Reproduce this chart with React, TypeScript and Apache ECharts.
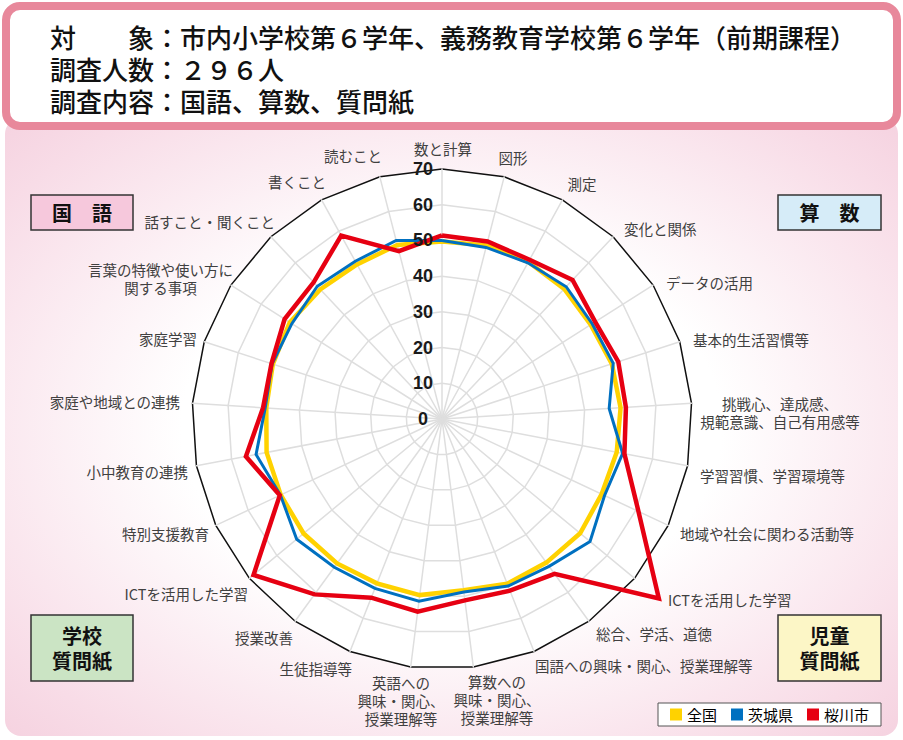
import React, { useEffect, useRef } from 'react';
import * as echarts from 'echarts';

// ---------- data ----------
const categories = [
  '数と計算',
  '図形',
  '測定',
  '変化と関係',
  'データの活用',
  '基本的生活習慣等',
  '挑戦心、達成感、\n規範意識、自己有用感等',
  '学習習慣、学習環境等',
  '地域や社会に関わる活動等',
  'ICTを活用した学習',
  '総合、学活、道徳',
  '国語への興味・関心、授業理解等',
  '算数への\n興味・関心、\n授業理解等',
  '英語への\n興味・関心、\n授業理解等',
  '生徒指導等',
  '授業改善',
  'ICTを活用した学習',
  '特別支援教育',
  '小中教育の連携',
  '家庭や地域との連携',
  '家庭学習',
  '言葉の特徴や使い方に\n関する事項',
  '話すこと・聞くこと',
  '書くこと',
  '読むこと',
];

const seriesNames = ['全国', '茨城県', '桜川市'];

const zenkoku = [49.7, 50.2, 50.2, 50.0, 49.3, 50.0, 50.1, 49.8, 49.4, 50.2, 49.7, 49.6, 48.3, 49.7, 49.5, 50.0, 50.3, 49.9, 50.0, 49.3, 49.8, 50.5, 49.8, 49.4, 50.3];
const ibaraki = [50.0, 49.6, 49.9, 50.8, 49.8, 50.4, 46.9, 51.5, 50.3, 53.8, 51.0, 50.3, 48.8, 51.4, 51.0, 51.3, 52.8, 50.0, 53.0, 49.6, 50.0, 49.8, 51.0, 50.4, 51.6];
const sakuragawa = [51.4, 51.3, 50.9, 53.4, 50.8, 51.9, 51.6, 52.0, 60.8, 78.8, 53.6, 51.7, 51.2, 54.4, 53.8, 60.7, 68.5, 50.2, 55.9, 50.2, 50.2, 52.2, 52.5, 58.6, 48.5];

const axisMin = 0;
const axisMax = 70;
const axisSplit = 7;

const headerLines = [
  '対　　象：市内小学校第６学年、義務教育学校第６学年（前期課程）',
  '調査人数：２９６人',
  '調査内容：国語、算数、質問紙',
];
const groupLabels = ['国　語', '算　数', '学校\n質問紙', '児童\n質問紙'];

// ---------- layout / style ----------
const FONT = '"Noto Sans CJK JP", "Noto Sans", sans-serif';
const COLORS = ['#FFD200', '#0070C0', '#E60012'];
const WIDTHS = [4.5, 3, 4.5];

const labelLayout: { x: number; y: number; align: string }[] = [
  { x: 443, y: 148, align: 'center' },
  { x: 513, y: 157, align: 'center' },
  { x: 582, y: 183, align: 'center' },
  { x: 624, y: 228, align: 'left' },
  { x: 666, y: 282, align: 'left' },
  { x: 693, y: 339, align: 'left' },
  { x: 780, y: 412, align: 'center' },
  { x: 700, y: 475, align: 'left' },
  { x: 680, y: 533, align: 'left' },
  { x: 668, y: 599, align: 'left' },
  { x: 596, y: 633, align: 'left' },
  { x: 535, y: 665, align: 'left' },
  { x: 497, y: 699, align: 'center' },
  { x: 401, y: 700, align: 'center' },
  { x: 352, y: 668, align: 'right' },
  { x: 293, y: 637, align: 'right' },
  { x: 248, y: 593, align: 'right' },
  { x: 209, y: 533, align: 'right' },
  { x: 188, y: 471, align: 'right' },
  { x: 180, y: 401, align: 'right' },
  { x: 197, y: 338, align: 'right' },
  { x: 160.5, y: 278.5, align: 'center' },
  { x: 275, y: 221, align: 'right' },
  { x: 326, y: 181, align: 'right' },
  { x: 382, y: 155, align: 'right' },
];

const boxLayout = [
  { x: 31, y: 195, w: 102, h: 35, fill: '#f6c8dc' },
  { x: 778, y: 195, w: 103, h: 35, fill: '#d6ecf8' },
  { x: 31, y: 615, w: 102, h: 66, fill: '#cbe4c4' },
  { x: 778, y: 615, w: 103, h: 66, fill: '#fcf6c6' },
];

const RADAR_CENTER = [442, 419];
const RADAR_RADIUS = 250;

export default function App() {
  const ref = useRef<HTMLDivElement>(null);

  useEffect(() => {
    if (!ref.current) return;
    const chart = echarts.init(ref.current, null, { renderer: 'svg' });

    const n = categories.length;
    // ECharts lays radar indicators counter-clockwise; reorder so the picture reads clockwise.
    const order = [0, ...Array.from({ length: n - 1 }, (_, k) => n - 1 - k)];
    const reorder = (arr: number[]) => order.map((i) => arr[i]);

    const ringColors = Array.from({ length: axisSplit + 1 }, (_, i) => (i === axisSplit ? '#111111' : '#dedede'));

    const baseIndicators = order.map((i) => ({ name: categories[i], min: axisMin, max: axisMax }));
    const labelIndicators = order.map((i, k) => {
      const ind: any = { name: categories[i], min: axisMin, max: axisMax };
      if (k === 0) {
        ind.axisLabel = {
          show: true,
          align: 'center',
          margin: 19,
          fontSize: 18,
          fontWeight: 'bold',
          color: '#1a1a1a',
          fontFamily: '"Liberation Sans", Arial, sans-serif',
        };
      }
      return ind;
    });

    const allSeries = [zenkoku, ibaraki, sakuragawa];

    const graphics: any[] = [
      {
        type: 'rect',
        z: -20,
        silent: true,
        shape: { x: 5, y: 118, width: 893, height: 618, r: 16 },
        style: {
          fill: {
            type: 'radial',
            x: 0.5,
            y: 0.5,
            r: 0.72,
            colorStops: [
              { offset: 0, color: '#ffffff' },
              { offset: 0.42, color: '#ffffff' },
              { offset: 0.85, color: '#f8dce7' },
              { offset: 1, color: '#f5d1df' },
            ],
          },
        },
      },
      {
        type: 'rect',
        z: -19,
        silent: true,
        shape: { x: 6, y: 6, width: 891, height: 120, r: 14 },
        style: { fill: '#ffffff', stroke: '#e8889b', lineWidth: 8 },
      },
      ...headerLines.map((t, i) => ({
        type: 'text',
        z: 100,
        x: 50,
        y: 36 + i * 32,
        style: {
          text: t,
          fill: '#111111',
          fontSize: 26,
          fontWeight: 500,
          fontFamily: FONT,
          align: 'left',
          verticalAlign: 'middle',
        },
      })),
      ...boxLayout.map((b) => ({
        type: 'rect',
        z: 100,
        shape: { x: b.x, y: b.y, width: b.w, height: b.h },
        style: { fill: b.fill, stroke: '#333333', lineWidth: 1.5 },
      })),
      ...groupLabels.map((t, i) => ({
        type: 'text',
        z: 101,
        x: boxLayout[i].x + boxLayout[i].w / 2,
        y: boxLayout[i].y + boxLayout[i].h / 2,
        style: {
          text: t,
          fill: '#111111',
          fontSize: 20,
          fontWeight: 'bold',
          fontFamily: FONT,
          align: 'center',
          verticalAlign: 'middle',
          lineHeight: 25,
        },
      })),
      ...categories.map((c, i) => ({
        type: 'text',
        z: 100,
        x: labelLayout[i].x,
        y: labelLayout[i].y,
        style: {
          text: c,
          fill: '#404040',
          fontSize: 14.5,
          fontFamily: FONT,
          align: labelLayout[i].align,
          verticalAlign: 'middle',
          lineHeight: 18,
        },
      })),
    ];

    const option: any = {
      animation: false,
      backgroundColor: '#ffffff',
      legend: {
        data: seriesNames.map((name, i) => ({ name, itemStyle: { color: COLORS[i], borderWidth: 0 } })),
        left: 658,
        top: 703,
        orient: 'horizontal',
        icon: 'rect',
        itemWidth: 12,
        itemHeight: 12,
        itemGap: 14,
        padding: [4, 12],
        backgroundColor: '#ffffff',
        borderColor: '#555555',
        borderWidth: 1,
        borderRadius: 0,
        selectedMode: false,
        textStyle: { fontSize: 15, color: '#000000', fontFamily: FONT },
        z: 110,
      },
      radar: [
        {
          center: RADAR_CENTER,
          radius: RADAR_RADIUS,
          startAngle: 90,
          splitNumber: axisSplit,
          shape: 'polygon',
          indicator: baseIndicators,
          axisName: { show: false },
          axisLine: { show: true, lineStyle: { color: '#dedede', width: 1.5 } },
          axisTick: { show: false },
          axisLabel: { show: false },
          splitLine: { show: true, lineStyle: { color: ringColors, width: 1.5 } },
          splitArea: { show: true, areaStyle: { color: ['#ffffff'] } },
          z: 0,
        },
        {
          // overlay radar that only carries the tick labels, drawn above the series lines
          center: RADAR_CENTER,
          radius: RADAR_RADIUS,
          startAngle: 90,
          splitNumber: axisSplit,
          shape: 'polygon',
          indicator: labelIndicators,
          axisName: { show: false },
          axisLine: { show: false },
          axisTick: { show: false },
          axisLabel: { show: false },
          splitLine: { show: false },
          splitArea: { show: false },
          z: 10,
        },
      ],
      graphic: { elements: graphics },
      series: [
        {
          type: 'radar',
          radarIndex: 0,
          symbol: 'none',
          silent: true,
          z: 2,
          data: allSeries.map((vals, i) => ({
            name: seriesNames[i],
            value: reorder(vals),
            symbol: 'none',
            lineStyle: { color: COLORS[i], width: WIDTHS[i], join: 'miter' },
            itemStyle: { color: COLORS[i] },
          })),
        },
      ],
    };

    chart.setOption(option);
    return () => chart.dispose();
  }, []);

  return <div ref={ref} style={{ position: 'absolute', left: 0, top: 0, width: 903, height: 740 }} />;
}
